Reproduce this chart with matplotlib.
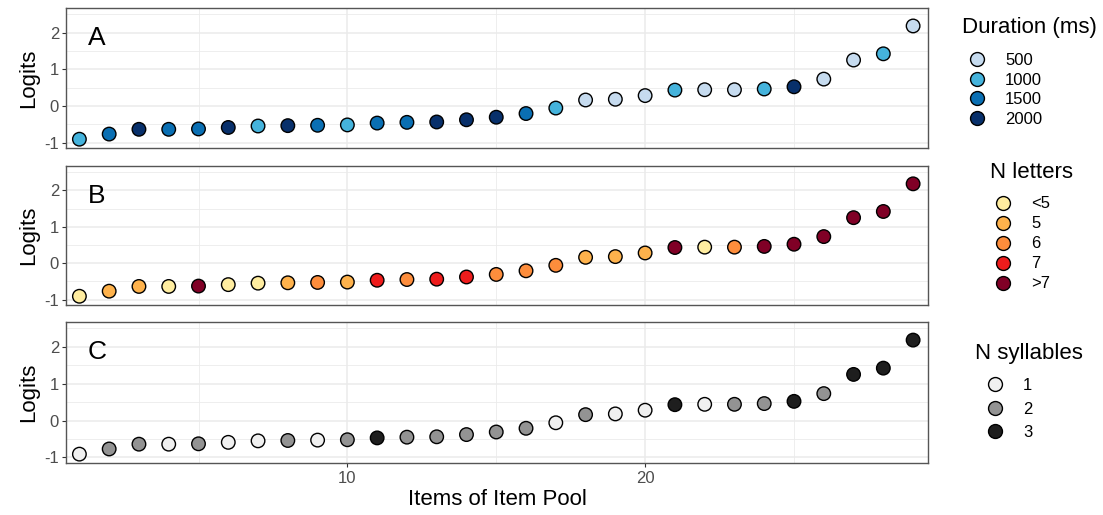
import matplotlib
matplotlib.use("Agg")
import matplotlib.pyplot as plt
from matplotlib.lines import Line2D
from matplotlib.ticker import MultipleLocator

plt.rcParams["font.family"] = ["Liberation Sans", "DejaVu Sans"]
plt.rcParams["axes.unicode_minus"] = False

items = list(range(1, 30))
logits = [-0.91, -0.77, -0.64, -0.64, -0.63, -0.59, -0.55, -0.54, -0.53, -0.52,
          -0.47, -0.45, -0.44, -0.38, -0.31, -0.21, -0.06, 0.16, 0.18, 0.28,
          0.43, 0.44, 0.44, 0.46, 0.52, 0.73, 1.25, 1.42, 2.18]

duration = ["1000", "1500", "2000", "1500", "1500", "2000", "1000", "2000", "1500", "1000",
            "1500", "1500", "2000", "2000", "2000", "1500", "1000", "500", "500", "500",
            "1000", "500", "500", "1000", "2000", "500", "500", "1000", "500"]
n_letters = ["<5", "5", "5", "<5", ">7", "<5", "<5", "5", "6", "5",
             "7", "6", "7", "7", "6", "6", "6", "5", "5", "5",
             ">7", "<5", "6", ">7", ">7", ">7", ">7", ">7", ">7"]
n_syllables = ["1", "2", "2", "1", "2", "1", "1", "2", "1", "2",
               "3", "2", "2", "2", "2", "2", "1", "2", "1", "1",
               "3", "1", "2", "2", "3", "2", "3", "3", "3"]

duration_levels = ["500", "1000", "1500", "2000"]
duration_colors = ["#c6dbef", "#45b3dc", "#0a6fb3", "#08306b"]
letter_levels = ["<5", "5", "6", "7", ">7"]
letter_colors = ["#ffeda0", "#feb24c", "#fd8d3c", "#ee1c1c", "#800026"]
syllable_levels = ["1", "2", "3"]
syllable_colors = ["#f0f0f0", "#939393", "#1e1e1e"]

W, H = 1103, 515
fig = plt.figure(figsize=(W / 100, H / 100), dpi=100)

panels = [
    ("A", duration, duration_levels, duration_colors, "Duration (ms)", 8, 148),
    ("B", n_letters, letter_levels, letter_colors, "N letters", 166, 305),
    ("C", n_syllables, syllable_levels, syllable_colors, "N syllables", 322, 463),
]
# legend layout in px: title x, title y, keys left, keys centre y, row spacing
legend_pos = [(962, 27, 955, 90, 0.27),
              (990, 172, 981, 244, 0.3),
              (975, 353, 973, 409, 0.5)]

for i, (letter, groups, levels, colors, title, top, bottom) in enumerate(panels):
    ax = fig.add_axes([66 / W, 1 - bottom / H, (928 - 66) / W, (bottom - top) / H])
    cmap = dict(zip(levels, colors))
    ax.scatter(items, logits, c=[cmap[g] for g in groups], s=95,
               edgecolors="black", linewidths=1.0, zorder=3)
    ax.set_xlim(0.55, 29.5)
    ax.set_ylim(-1.15, 2.67)
    ax.xaxis.set_major_locator(MultipleLocator(10))
    ax.xaxis.set_minor_locator(MultipleLocator(5))
    ax.yaxis.set_major_locator(MultipleLocator(1))
    ax.yaxis.set_minor_locator(MultipleLocator(0.5))
    ax.grid(which="major", color="#ebebeb", linewidth=1.1)
    ax.grid(which="minor", color="#ebebeb", linewidth=0.6)
    ax.set_axisbelow(True)
    for sp in ax.spines.values():
        sp.set_color("#555555")
        sp.set_linewidth(1.0)
    ax.tick_params(which="minor", length=0)
    ax.tick_params(axis="y", length=3, color="#333333", labelsize=12,
                   labelcolor="#4d4d4d", pad=2)
    ax.set_ylabel("Logits", fontsize=16, labelpad=4)
    if letter != "C":
        ax.tick_params(axis="x", length=0, labelbottom=False)
    else:
        ax.tick_params(axis="x", length=3, color="#333333", labelsize=12,
                       labelcolor="#4d4d4d", pad=3)
        ax.set_xlabel("Items of Item Pool", fontsize=16, labelpad=2)
    ax.text(0.025, 0.87, letter, transform=ax.transAxes, fontsize=19,
            va="top", ha="left")

    tx, ty, kx, ky, spacing = legend_pos[i]
    fig.text(tx / W, 1 - ty / H, title, fontsize=16, ha="left", va="center")
    handles = [Line2D([], [], linestyle="none", marker="o", markersize=10,
                      markerfacecolor=c, markeredgecolor="black",
                      markeredgewidth=1.0) for c in colors]
    fig.legend(handles, levels, loc="center left",
               bbox_to_anchor=(kx / W, 1 - ky / H), frameon=False,
               fontsize=12, handletextpad=0.9, labelspacing=spacing,
               borderpad=0, handlelength=1.6)

fig.savefig("out.png", dpi=100)
